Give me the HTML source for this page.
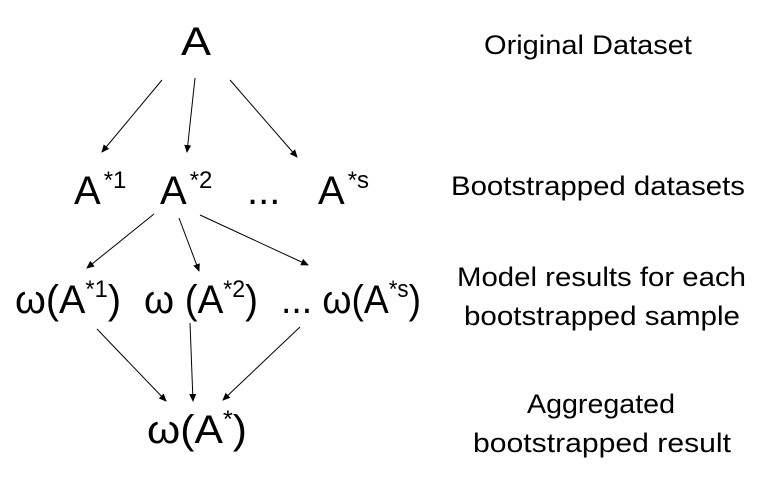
<!DOCTYPE html>
<html><head><style>html,body{margin:0;padding:0;background:#fff;}svg{display:block}</style></head>
<body>
<svg width="759" height="480" viewBox="0 0 759 480" xmlns="http://www.w3.org/2000/svg" font-family="'Liberation Sans', sans-serif" fill="#000">
<defs><marker id="a" markerWidth="8" markerHeight="8" refX="7" refY="4" orient="auto" markerUnits="userSpaceOnUse"><path d="M0,0.5 L8,4 L0,7.5 z"/></marker></defs>
<g stroke="#000" stroke-width="1" marker-end="url(#a)">
<line x1="162" y1="80" x2="102" y2="152"/>
<line x1="195" y1="78" x2="187" y2="152"/>
<line x1="230" y1="80" x2="297" y2="157"/>
<line x1="154" y1="214" x2="87" y2="268"/>
<line x1="179" y1="218" x2="199" y2="271"/>
<line x1="200" y1="215" x2="308" y2="265"/>
<line x1="97" y1="329" x2="166" y2="401"/>
<line x1="190" y1="323" x2="193" y2="401"/>
<line x1="300" y1="327" x2="223" y2="400"/>
</g>
<g font-size="40" stroke="none">
<text x="181" y="55" textLength="30" lengthAdjust="spacingAndGlyphs">A</text>
<text x="74" y="204">A<tspan font-size="24" dx="3" dy="-16">*1</tspan></text>
<text x="160" y="204">A<tspan font-size="24" dx="3" dy="-16">*2</tspan></text>
<text x="247" y="204">...</text>
<text x="318" y="204">A<tspan font-size="24" dx="3" dy="-16">*s</tspan></text>
<text x="15" y="313" textLength="106" lengthAdjust="spacingAndGlyphs">ω(A<tspan font-size="24" dy="-16">*1</tspan><tspan dy="16">)</tspan></text>
<text x="144" y="313" textLength="114" lengthAdjust="spacingAndGlyphs">ω (A<tspan font-size="24" dy="-16">*2</tspan><tspan dy="16">)</tspan></text>
<text x="281" y="313" textLength="140" lengthAdjust="spacingAndGlyphs">... ω(A<tspan font-size="24" dy="-16">*s</tspan><tspan dy="16">)</tspan></text>
<text x="147" y="443" textLength="100" lengthAdjust="spacingAndGlyphs">ω(A<tspan font-size="24" dy="-16">*</tspan><tspan dy="16">)</tspan></text>
</g>
<g font-size="27">
<text x="484" y="54" textLength="208" lengthAdjust="spacingAndGlyphs">Original Dataset</text>
<text x="451" y="195" textLength="294" lengthAdjust="spacingAndGlyphs">Bootstrapped datasets</text>
<text x="457" y="286" textLength="289" lengthAdjust="spacingAndGlyphs">Model results for each</text>
<text x="464" y="325" textLength="276" lengthAdjust="spacingAndGlyphs">bootstrapped sample</text>
<text x="527" y="413" textLength="148" lengthAdjust="spacingAndGlyphs">Aggregated</text>
<text x="473" y="452" textLength="258" lengthAdjust="spacingAndGlyphs">bootstrapped result</text>
</g>
</svg>
</body></html>
